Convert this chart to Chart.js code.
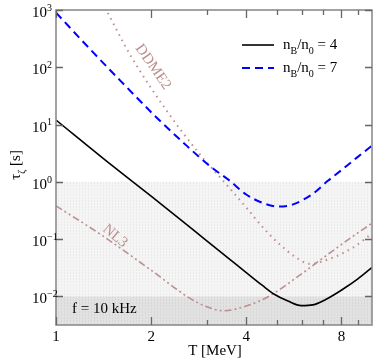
<!DOCTYPE html>
<html><head><meta charset="utf-8">
<script src="https://cdn.jsdelivr.net/npm/chart.js@4/dist/chart.umd.min.js"></script>
<style>html,body{margin:0;padding:0;background:#fff}#wrap{width:374px;height:361px;position:relative}</style>
</head><body><div id="wrap"><canvas id="c" width="374" height="361"></canvas></div>
<script>
// ---- data ----
const xTickValues = [1, 2, 4, 8];
const xMinorValues = [3, 5, 6, 7, 9];
const yTickExponents = [-2, -1, 0, 1, 2, 3];

const tempN4 = [1, 1.5, 2, 2.5, 3, 3.5, 4, 4.5, 4.92, 5.42, 5.97, 6.5, 7.16, 8.08, 9, 10];
const tauN4  = [12, 1.95, 0.56, 0.21, 0.093, 0.047, 0.026, 0.0155, 0.0108, 0.0083, 0.0069, 0.0071, 0.0089, 0.0133, 0.02, 0.032];

const tempN7 = [1, 1.28, 1.6, 2.08, 2.6, 3.1, 3.55, 4, 4.5, 5.05, 5.6, 6.5, 7.25, 8, 9, 10];
const tauN7  = [900, 209, 58, 13.3, 4.2, 1.8, 1.04, 0.6, 0.43, 0.37, 0.40, 0.62, 1.04, 1.6, 2.7, 4.3];

const tempDDME2 = [1.4, 1.445, 1.71, 2.24, 2.85, 3.42, 4.0, 4.52, 5.1, 5.76, 6.34, 7.33, 8.7, 10];
const tauDDME2  = [1350, 980, 171, 17.4, 3.05, 0.97, 0.356, 0.159, 0.081, 0.0475, 0.037, 0.045, 0.071, 0.125];

const tempNL3 = [1, 1.38, 1.98, 2.65, 3.0, 3.38, 4.0, 4.74, 5.76, 6.8, 8.3, 10];
const tauNL3  = [0.38, 0.122, 0.0298, 0.0093, 0.0066, 0.0056, 0.0068, 0.0102, 0.0212, 0.0416, 0.093, 0.19];

const legendLabels = ['4', '7'];
const shadeUpper = 1;      // light band from 10^0
const shadeLower = 0.01;   // dark band below 10^-2 (f = 10 kHz)

const pts = (xs, ys) => xs.map((x, i) => ({x: x, y: ys[i]}));
const ROSY = '#bc8f8f';
const SERIF = '"Liberation Serif", "DejaVu Serif", serif';

function makePattern(ctx, base, dot) {
  const c = document.createElement('canvas'); c.width = 3; c.height = 3;
  const g = c.getContext('2d');
  g.fillStyle = base; g.fillRect(0, 0, 3, 3);
  g.fillStyle = dot; g.fillRect(1, 0, 1, 1); g.fillRect(1, 2, 1, 1);
  return ctx.createPattern(c, 'repeat');
}

function drawParts(ctx, parts, x, y, size) {
  let cx = x;
  for (const [t, k] of parts) {
    const fs = k === 'n' ? size : Math.round(size * 0.68);
    ctx.font = fs + 'px ' + SERIF;
    const dy = k === 'sub' ? size * 0.3 : (k === 'sup' ? -size * 0.42 : 0);
    ctx.fillText(t, cx, y + dy);
    cx += ctx.measureText(t).width;
  }
  return cx - x;
}
function partsWidth(ctx, parts, size) {
  let w = 0;
  for (const [t, k] of parts) {
    const fs = k === 'n' ? size : Math.round(size * 0.68);
    ctx.font = fs + 'px ' + SERIF;
    w += ctx.measureText(t).width;
  }
  return w;
}

const decor = {
  id: 'decor',
  beforeDatasetsDraw(chart) {
    const {ctx, chartArea: a, scales: {y}} = chart;
    const yU = y.getPixelForValue(shadeUpper), yL = y.getPixelForValue(shadeLower);
    ctx.save();
    ctx.fillStyle = makePattern(ctx, '#f5f5f5', '#eaeaea');
    ctx.fillRect(a.left, yU, a.right - a.left, yL - yU);
    ctx.fillStyle = makePattern(ctx, '#e2e2e2', '#d7d7d7');
    ctx.fillRect(a.left, yL, a.right - a.left, a.bottom - yL);
    ctx.fillStyle = '#000';
    ctx.textBaseline = 'alphabetic';
    ctx.font = '15px ' + SERIF;
    ctx.fillText('f = 10 kHz', a.left + 16, yL + 17);
    ctx.restore();
  },
  afterDatasetsDraw(chart) {
    const {ctx, chartArea: a, scales: {x, y}} = chart;
    ctx.save();
    ctx.strokeStyle = '#8c8c8c'; ctx.lineWidth = 1.6;
    ctx.strokeRect(a.left, a.top, a.right - a.left, a.bottom - a.top);
    ctx.strokeStyle = '#666'; ctx.lineWidth = 1.3;
    ctx.beginPath();
    for (const v of xTickValues) {
      const px = Math.round(x.getPixelForValue(v)) + 0.5;
      ctx.moveTo(px, a.bottom); ctx.lineTo(px, a.bottom - 8);
      ctx.moveTo(px, a.top); ctx.lineTo(px, a.top + 8);
    }
    for (const v of xMinorValues) {
      const px = Math.round(x.getPixelForValue(v)) + 0.5;
      ctx.moveTo(px, a.bottom); ctx.lineTo(px, a.bottom - 5);
      ctx.moveTo(px, a.top); ctx.lineTo(px, a.top + 5);
    }
    for (const e of yTickExponents) {
      const py = Math.round(y.getPixelForValue(Math.pow(10, e))) + 0.5;
      ctx.moveTo(a.left, py); ctx.lineTo(a.left + 7, py);
      ctx.moveTo(a.right, py); ctx.lineTo(a.right - 7, py);
    }
    ctx.stroke();
    ctx.fillStyle = '#000';
    ctx.font = '15px ' + SERIF;
    ctx.textAlign = 'center'; ctx.textBaseline = 'alphabetic';
    for (const v of xTickValues) ctx.fillText(String(v), x.getPixelForValue(v), a.bottom + 16);
    ctx.textAlign = 'left';
    for (const e of yTickExponents) {
      const py = y.getPixelForValue(Math.pow(10, e));
      const parts = [['10', 'n'], [String(e).replace('-', '\u2212'), 'sup']];
      ctx.font = '15px ' + SERIF;
      const w10 = ctx.measureText('10').width;
      drawParts(ctx, parts, 47 - w10, py + 7, 15);
    }
    ctx.font = '15px ' + SERIF;
    ctx.textAlign = 'center';
    ctx.fillText('T [MeV]', (a.left + a.right) / 2 + 1, a.bottom + 30);
    ctx.save();
    ctx.translate(20, 165); ctx.rotate(-Math.PI / 2);
    ctx.textAlign = 'left';
    const tParts = [['\u03c4', 'n'], ['\u03b6', 'sub'], [' [s]', 'n']];
    const tw = partsWidth(ctx, tParts, 15);
    drawParts(ctx, tParts, -tw / 2, 0, 15);
    ctx.restore();
    ctx.fillStyle = ROSY;
    ctx.font = '15px ' + SERIF;
    ctx.textAlign = 'center'; ctx.textBaseline = 'middle';
    ctx.save(); ctx.translate(153, 67); ctx.rotate(55 * Math.PI / 180);
    ctx.fillText('DDME2', 0, 0); ctx.restore();
    ctx.save(); ctx.translate(115, 236); ctx.rotate(40 * Math.PI / 180);
    ctx.fillText('NL3', 0, 0); ctx.restore();
    ctx.textBaseline = 'alphabetic'; ctx.textAlign = 'left';
    const ds = chart.data.datasets;
    const rows = [45, 68];
    for (let i = 0; i < 2; i++) {
      const d = ds[i];
      ctx.strokeStyle = d.borderColor; ctx.lineWidth = d.borderWidth;
      ctx.setLineDash(d.borderDash || []);
      ctx.beginPath(); ctx.moveTo(242, rows[i]); ctx.lineTo(274, rows[i]); ctx.stroke();
      ctx.setLineDash([]);
      ctx.fillStyle = '#000';
      drawParts(ctx, [['n', 'n'], ['B', 'sub'], ['/n', 'n'], ['0', 'sub'], [' = ' + legendLabels[i], 'n']], 283, rows[i] + 4, 15);
    }
    ctx.restore();
  }
};

new Chart(document.getElementById('c'), {
  type: 'line',
  data: {
    datasets: [
      {label: 'nB/n0 = 4', data: pts(tempN4, tauN4), borderColor: '#000000', borderWidth: 1.6},
      {label: 'nB/n0 = 7', data: pts(tempN7, tauN7), borderColor: '#0000ff', borderWidth: 2, borderDash: [8, 5]},
      {label: 'DDME2', data: pts(tempDDME2, tauDDME2), borderColor: ROSY, borderWidth: 2, borderDash: [1.5, 4.5]},
      {label: 'NL3', data: pts(tempNL3, tauNL3), borderColor: ROSY, borderWidth: 1.6, borderDash: [7, 3, 2, 3, 2, 3]}
    ]
  },
  options: {
    responsive: false, animation: false, devicePixelRatio: 1,
    layout: {padding: {left: 56, right: 2, top: 10, bottom: 36}},
    elements: {point: {radius: 0}, line: {cubicInterpolationMode: 'monotone', fill: false}},
    plugins: {legend: {display: false}, tooltip: {enabled: false}},
    scales: {
      x: {type: 'logarithmic', min: 1, max: 10, display: false},
      y: {type: 'logarithmic', min: Math.pow(10, -2.5), max: 1000, display: false}
    }
  },
  plugins: [decor]
});
</script></body></html>
